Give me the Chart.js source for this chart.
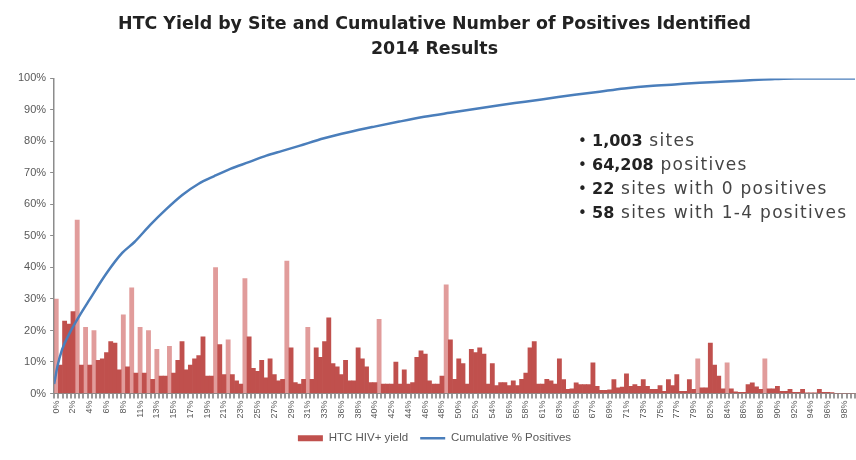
<!DOCTYPE html>
<html lang="en">
<head>
    <meta charset="UTF-8">
    <title>HTC Yield by Site</title>
    <script src="https://cdn.jsdelivr.net/npm/chart.js"></script>
    <style>
        html, body { margin: 0; padding: 0; background: #fff; }
        #wrap { width: 856px; height: 460px; }
    </style>
</head>
<body>
    <div id="wrap"><canvas id="chart" width="856" height="460"></canvas></div>

    <script>
        // x axis labels (percentile of sites), one every 4 bars
        var tickLabels = ['0%','2%','4%','6%','8%','11%','13%','15%','17%','19%','21%','23%','25%','27%','29%','31%',
            '33%','36%','38%','40%','42%','44%','46%','48%','50%','52%','54%','56%','58%','61%','63%','65%',
            '67%','69%','71%','73%','75%','77%','79%','82%','84%','86%','88%','90%','92%','94%','96%','98%'];

        // HTC HIV+ yield per site (%), sites sorted by number of positives
        var siteYield = [
            30, 9, 23, 22, 26, 55, 9, 21, 9, 20,
            10.5, 11, 13, 16.5, 16, 7.5, 25, 8.5, 33.5, 6.5,
            21, 6.5, 20, 4.5, 14, 5.5, 5.5, 15, 6.5, 10.5,
            16.5, 7.5, 9, 11, 12, 18, 5.5, 5.5, 40, 15.5,
            6, 17, 6, 4, 3, 36.5, 18, 8, 7, 10.5,
            5, 11, 6, 4, 4.5, 42, 14.5, 3.5, 3, 4.5,
            21, 4.5, 14.5, 11.5, 16.5, 24, 9.5, 8.5, 6, 10.5,
            4, 4, 14.5, 11, 8.5, 3.5, 3.5, 23.5, 3, 3,
            3, 10, 3, 7.5, 3, 3.5, 11.5, 13.5, 12.5, 4,
            3, 3, 5.5, 34.5, 17, 4.5, 11, 9.5, 3, 14,
            13, 14.5, 12.5, 3, 9.5, 2.5, 3.5, 3.5, 2.5, 4,
            2.5, 4.5, 6.5, 14.5, 16.5, 3, 3, 4.5, 4, 3,
            11, 4.4, 1.3, 1.5, 3.4, 2.8, 2.8, 2.8, 9.7, 2.3,
            1, 1, 1.2, 4.4, 1.8, 2, 6.2, 2.3, 2.8, 2.3,
            4.4, 2.3, 1.3, 1.3, 2.5, 0.7, 4.4, 2.5, 6, 0.7,
            0.7, 4.4, 1.3, 11, 1.8, 1.8, 16, 9, 5.5, 1.5,
            9.7, 1.5, 0.5, 0.4, 0.4, 2.8, 3.4, 2.1, 1.3, 11,
            1.5, 1.5, 2.3, 0.7, 0.7, 1.3, 0.4, 0.4, 1.3, 0.2,
            0.2, 0.2, 1.3, 0.4, 0.4, 0.3, 0, 0, 0, 0, 0
        ];

        // cumulative % of positives against % of sites
        var cumSitePct = [0, 0.4, 1.0, 1.9, 3.1, 4.4, 6.5, 8.5, 10, 12, 14, 16, 18, 20, 22, 24.4, 26.5, 28.5, 30.6,
            33.7, 36.9, 40, 43.1, 46.2, 49.4, 52.5, 55.6, 58.8, 61.9, 65, 68.1, 71.2, 74.4, 77.5, 80.6,
            83.8, 86.9, 90, 92.5, 100];
        var cumPositives = [3, 8.5, 14, 19, 24.4, 29.7, 38, 44.6, 48, 53.5, 58.5, 63, 66.5, 69, 71.3, 73.5, 75.5, 77, 78.6,
            81, 83, 84.7, 86.3, 87.8, 89.1, 90.3, 91.5, 92.6, 93.7, 94.8, 95.8, 96.8, 97.6, 98.1, 98.6,
            99, 99.4, 99.8, 100, 100];

        var summary = [
            ['1,003', ' sites'],
            ['64,208', ' positives'],
            ['22', ' sites with 0 positives'],
            ['58', ' sites with 1-4 positives']
        ];

        var barRed = 'rgb(192,80,77)';
        var spikeRed = 'rgba(205,90,88,0.6)';
        var lineBlue = '#4a7ebb';
        var axisGray = '#8c8c8c';
        var textGray = '#595959';

        var categories = siteYield.map(function(v, i) { return i; });
        var cumPoints = cumSitePct.map(function(x, i) { return { x: x, y: cumPositives[i] }; });

        // bullet list on the right
        var summaryPlugin = {
            id: 'summary',
            afterDraw: function(chart) {
                var ctx = chart.ctx;
                ctx.save();
                ctx.textBaseline = 'middle';
                summary.forEach(function(row, i) {
                    var y = 142 + i * 24;
                    ctx.letterSpacing = '0px';
                    ctx.fillStyle = '#222';
                    ctx.font = '15px "DejaVu Sans"';
                    ctx.fillText('\u2022', 578, y);
                    ctx.font = 'bold 16px "DejaVu Sans"';
                    ctx.fillText(row[0], 592, y);
                    var w = ctx.measureText(row[0]).width;
                    ctx.letterSpacing = '1.3px';
                    ctx.font = '17px "DejaVu Sans"';
                    ctx.fillStyle = '#444';
                    ctx.fillText(row[1], 592 + w, y);
                });
                ctx.restore();
            }
        };

        var ctx = document.getElementById('chart').getContext('2d');
        var chart = new Chart(ctx, {
            data: {
                labels: categories,
                datasets: [{
                    type: 'bar',
                    label: 'HTC HIV+ yield',
                    data: siteYield,
                    order: 2,
                    backgroundColor: function(c) {
                        var i = c.dataIndex;
                        var v = siteYield[i];
                        var nb = Math.max(siteYield[i - 1] || 0, siteYield[i + 1] || 0);
                        return (v - nb > 8) ? spikeRed : barRed;
                    },
                    borderWidth: 0,
                    barPercentage: 1,
                    categoryPercentage: 1,
                    grouped: false,
                    xAxisID: 'x'
                }, {
                    type: 'line',
                    label: 'Cumulative % Positives',
                    data: cumPoints,
                    order: 1,
                    borderColor: lineBlue,
                    borderWidth: 2.5,
                    pointRadius: 0,
                    cubicInterpolationMode: 'monotone',
                    xAxisID: 'x2'
                }]
            },
            options: {
                responsive: false,
                animation: false,
                datasets: { bar: { barPercentage: 1, categoryPercentage: 1 } },
                layout: { padding: { left: 14, right: 1, top: 0, bottom: 6 } },
                scales: {
                    x: {
                        type: 'category',
                        offset: true,
                        grid: { drawOnChartArea: false, tickLength: 5, color: '#9a9a9a', lineWidth: 2 },
                        border: { color: axisGray, width: 1 },
                        afterFit: function(s) { s.paddingRight = 0; s.paddingLeft = 0; },
                        ticks: {
                            autoSkip: false,
                            minRotation: 90,
                            maxRotation: 90,
                            padding: 2,
                            color: textGray,
                            font: { family: 'Liberation Sans', size: 9 },
                            callback: function(v, i) { return i % 4 === 0 ? tickLabels[i / 4] : ''; }
                        }
                    },
                    x2: { type: 'linear', min: 0, max: 100, display: false },
                    y: {
                        min: 0,
                        max: 100,
                        grid: { drawOnChartArea: false, tickLength: 4, color: axisGray },
                        border: { color: axisGray, width: 1.5 },
                        ticks: {
                            stepSize: 10,
                            padding: 4,
                            color: textGray,
                            font: { family: 'Liberation Sans', size: 11 },
                            callback: function(v) { return v + '%'; }
                        }
                    }
                },
                plugins: {
                    title: {
                        display: true,
                        text: ['HTC Yield by Site and Cumulative Number of Positives Identified', '2014 Results'],
                        color: '#222',
                        font: { family: 'DejaVu Sans', size: 17.4, weight: 'bold', lineHeight: 1.42 },
                        padding: { top: 12, bottom: 17 }
                    },
                    legend: {
                        position: 'bottom',
                        labels: {
                            usePointStyle: true,
                            pointStyleWidth: 25,
                            boxHeight: 6,
                            padding: 12,
                            color: textGray,
                            font: { family: 'Liberation Sans', size: 11.5 },
                            generateLabels: function(chart) {
                                var items = Chart.defaults.plugins.legend.labels.generateLabels(chart);
                                items.sort(function(a, b) { return a.datasetIndex - b.datasetIndex; });
                                items.forEach(function(it) {
                                    if (it.datasetIndex === 0) {
                                        it.pointStyle = 'rect';
                                        it.fillStyle = barRed;
                                        it.strokeStyle = barRed;
                                        it.lineWidth = 0;
                                    } else {
                                        it.pointStyle = 'line';
                                        it.strokeStyle = lineBlue;
                                        it.lineWidth = 2.5;
                                    }
                                });
                                return items;
                            }
                        }
                    },
                    tooltip: { enabled: false }
                }
            },
            plugins: [summaryPlugin]
        });
    </script>
</body>
</html>
